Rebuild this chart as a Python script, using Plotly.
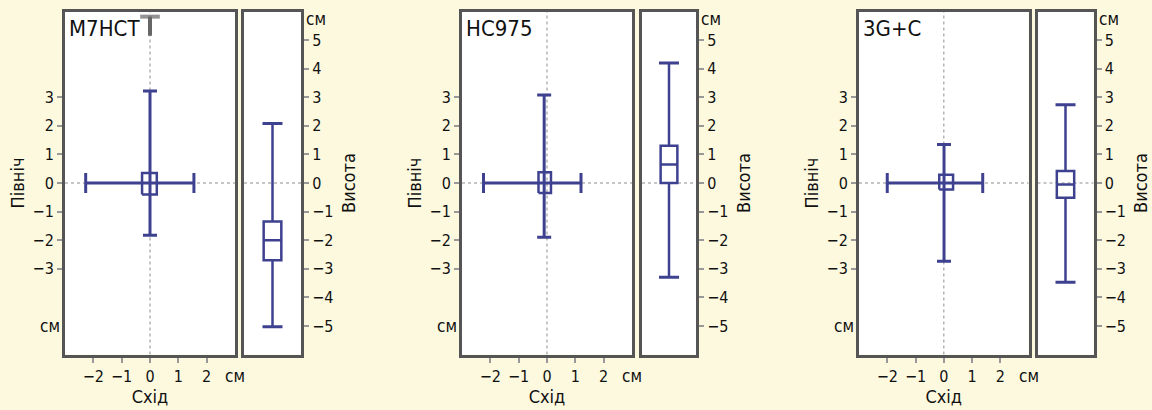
import plotly.graph_objects as go

# three receivers, each with a horizontal (East/North) and a vertical (Height) error summary, in cm
panels = ['M7HCT', 'HC975', '3G+C']

east_min = [-2.27, -2.24, -2.0]
east_q1 = [-0.28, -0.30, -0.16]
east_med = [0.0, -0.10, 0.01]
east_q3 = [0.24, 0.14, 0.33]
east_max = [1.55, 1.20, 1.38]

north_min = [-1.83, -1.90, -2.74]
north_q1 = [-0.40, -0.35, -0.23]
north_med = [0.0, 0.0, 0.0]
north_q3 = [0.35, 0.38, 0.29]
north_max = [3.22, 3.08, 1.35]

height_min = [-5.03, -3.30, -3.47]
height_q1 = [-2.70, 0.0, -0.52]
height_med = [-2.0, 0.65, -0.05]
height_q3 = [-1.35, 1.30, 0.42]
height_max = [2.08, 4.20, 2.74]

# a single clipped outlier cap seen near the top of the first panel
stray_x = [0.0, None, None]
stray_lo = [5.15, None, None]
stray_hi = [5.82, None, None]

main_ticks = [-3, -2, -1, 0, 1, 2, 3]
east_ticks = [-2, -1, 0, 1, 2]
height_ticks = [-5, -4, -3, -2, -1, 0, 1, 2, 3, 4, 5]

W, H = 1152, 410
main_px = [(65, 235), (462, 632), (859, 1028.5)]
side_px = [(244, 301), (642, 696), (1037.5, 1093.5)]
top_px, bot_px = 11.5, 354.5

navy = '#3d4190'
frame = '#555555'
bg = '#fdf9df'
font = 'DejaVu Sans Condensed, Liberation Sans Narrow, Roboto, sans-serif'


def ax_id(n):
    return '' if n == 1 else str(n)


fig = go.Figure()
layout = {}
annotations = []
shapes = []

ydom = [1 - bot_px / H, 1 - top_px / H]

for i, name in enumerate(panels):
    mx = ax_id(2 * i + 1)
    sx = ax_id(2 * i + 2)
    mxa, mya = 'x' + mx, 'y' + mx
    sxa, sya = 'x' + sx, 'y' + sx

    # crosshair whiskers with caps
    fig.add_trace(go.Scatter(
        x=[east_med[i]], y=[north_med[i]], xaxis=mxa, yaxis=mya,
        mode='markers', marker=dict(size=1, opacity=0),
        error_x=dict(type='data', symmetric=False,
                     array=[east_max[i] - east_med[i]],
                     arrayminus=[east_med[i] - east_min[i]],
                     color=navy, thickness=3, width=10),
        error_y=dict(type='data', symmetric=False,
                     array=[north_max[i] - north_med[i]],
                     arrayminus=[north_med[i] - north_min[i]],
                     color=navy, thickness=3, width=7),
        showlegend=False, hoverinfo='skip'))
    # interquartile square
    fig.add_trace(go.Scatter(
        x=[east_q1[i], east_q3[i], east_q3[i], east_q1[i], east_q1[i]],
        y=[north_q1[i], north_q1[i], north_q3[i], north_q3[i], north_q1[i]],
        xaxis=mxa, yaxis=mya, mode='lines',
        line=dict(color=navy, width=2.5),
        showlegend=False, hoverinfo='skip'))

    if stray_x[i] is not None:
        fig.add_trace(go.Scatter(
            x=[stray_x[i], stray_x[i]], y=[stray_lo[i], stray_hi[i]], xaxis=mxa, yaxis=mya,
            mode='lines+markers', line=dict(color='#666666', width=4),
            marker=dict(symbol='line-ew', size=[0, 14], color='#666666',
                        line=dict(color='#666666', width=4)),
            showlegend=False, hoverinfo='skip'))

    # height box plot
    fig.add_trace(go.Box(
        x=[0], q1=[height_q1[i]], median=[height_med[i]], q3=[height_q3[i]],
        lowerfence=[height_min[i]], upperfence=[height_max[i]],
        xaxis=sxa, yaxis=sya, width=0.62, whiskerwidth=0,
        fillcolor='rgba(0,0,0,0)', line=dict(color=navy, width=2.5),
        boxpoints=False, showlegend=False, hoverinfo='skip'))
    # whisker caps for the box
    fig.add_trace(go.Scatter(
        x=[0, 0], y=[height_min[i], height_max[i]], xaxis=sxa, yaxis=sya,
        mode='markers', marker=dict(size=1, opacity=0),
        error_y=dict(type='data', array=[0, 0], color=navy, thickness=3, width=10),
        showlegend=False, hoverinfo='skip'))

    axis_common = dict(showline=True, mirror=True, linecolor=frame, linewidth=3,
                       showgrid=False, zeroline=False, ticks='outside', ticklen=5,
                       tickcolor='#999999', tickwidth=2,
                       tickfont=dict(family=font, size=16, color='#111'))

    layout['xaxis' + mx] = dict(axis_common, domain=[main_px[i][0] / W, main_px[i][1] / W],
                                range=[-3, 3], tickvals=east_ticks, anchor=mya,
                                title=dict(text='Схід', font=dict(family=font, size=18, color='#111'),
                                           standoff=5))
    layout['yaxis' + mx] = dict(axis_common, domain=ydom, range=[-6, 6],
                                tickvals=main_ticks, anchor=mxa,
                                title=dict(text='Північ', font=dict(family=font, size=18, color='#111'),
                                           standoff=4))
    layout['xaxis' + sx] = dict(axis_common, domain=[side_px[i][0] / W, side_px[i][1] / W],
                                range=[-1, 1], ticks='', showticklabels=False, anchor=sya)
    layout['yaxis' + sx] = dict(axis_common, domain=ydom, range=[-6, 6], side='right',
                                tickvals=height_ticks, anchor=sxa,
                                title=dict(text='Висота', font=dict(family=font, size=18, color='#111'),
                                           standoff=10))

    # dotted zero reference lines
    for xr, yr in [(mxa, mya), (sxa, sya)]:
        shapes.append(dict(type='line', xref=xr + ' domain', x0=0, x1=1, yref=yr, y0=0, y1=0,
                           line=dict(color='#b4b4b4', width=1.5, dash='dot'), layer='below'))
    shapes.append(dict(type='line', xref=mxa, x0=0, x1=0, yref=mya + ' domain', y0=0, y1=1,
                       line=dict(color='#b4b4b4', width=1.5, dash='dot'), layer='below'))

    # panel name and unit labels
    annotations.append(dict(text=name, xref=mxa + ' domain', x=0, yref=mya + ' domain', y=1,
                            xanchor='left', yanchor='top', xshift=2, yshift=-2, showarrow=False,
                            font=dict(family=font, size=22, color='#111')))
    annotations.append(dict(text='см', xref=mxa + ' domain', x=0, yref=mya, y=-5,
                            xanchor='right', yanchor='middle', xshift=-3, showarrow=False,
                            font=dict(family=font, size=17, color='#111')))
    annotations.append(dict(text='см', xref=mxa + ' domain', x=1, yref=mya + ' domain', y=0,
                            xanchor='center', yanchor='top', yshift=-9, showarrow=False,
                            font=dict(family=font, size=17, color='#111')))
    annotations.append(dict(text='см', xref=sxa + ' domain', x=1, yref=sya, y=5.75,
                            xanchor='left', yanchor='middle', xshift=3, showarrow=False,
                            font=dict(family=font, size=17, color='#111')))

fig.update_layout(
    width=W, height=H,
    margin=dict(l=0, r=0, t=0, b=0),
    paper_bgcolor=bg,
    plot_bgcolor='white',
    font=dict(family=font, size=16, color='#111'),
    annotations=annotations,
    shapes=shapes,
    showlegend=False,
    **layout,
)

# drop the browser's default page margin so the figure fills the window
fig.write_html('out.html', config={'displayModeBar': False},
               post_script="document.body.style.margin='0';document.body.style.background='%s';" % bg)
